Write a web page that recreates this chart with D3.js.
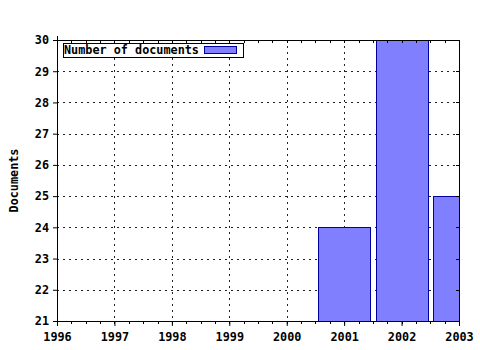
<!DOCTYPE html>
<html>
<head>
<meta charset="utf-8">
<script src="https://cdn.jsdelivr.net/npm/d3@7"></script>
<style>
body { margin: 0; background: #fff; }
text { font-family: "DejaVu Sans Mono", monospace; font-weight: bold; font-size: 11.8px; }
</style>
</head>
<body>
<svg id="chart" width="480" height="350"></svg>
<script>
// values
var years = [2001, 2002, 2003];
var docs = [24, 30, 25];
var yearTicks = [1996, 1997, 1998, 1999, 2000, 2001, 2002, 2003];
var docTicks = [21, 22, 23, 24, 25, 26, 27, 28, 29, 30];

var pLeft = 57, pRight = 459, pTop = 40, pBottom = 321;

var svg = d3.select("#chart");

var x = d3.scaleLinear().domain([1996, 2003]).range([pLeft, pRight]);
var y = d3.scaleLinear().domain([21, 30]).range([pBottom, pTop]);

// minor ticks every quarter year
var minor = d3.range(1996, 2003.001, 0.25);

svg.append("defs").append("clipPath").attr("id", "plot")
  .append("rect").attr("x", pLeft).attr("y", pTop - 1)
  .attr("width", pRight - pLeft).attr("height", pBottom - pTop + 1);

// dotted grid
svg.append("g").selectAll("line")
  .data(yearTicks.slice(1, -1))
  .enter().append("line")
  .attr("x1", function(d) { return Math.round(x(d)) + 0.5; })
  .attr("x2", function(d) { return Math.round(x(d)) + 0.5; })
  .attr("y1", pTop).attr("y2", pBottom)
  .attr("stroke", "#222").attr("stroke-dasharray", "2,4");

svg.append("g").selectAll("line")
  .data(docTicks.slice(1, -1))
  .enter().append("line")
  .attr("x1", pLeft).attr("x2", pRight)
  .attr("y1", function(d) { return Math.round(y(d)) + 0.5; })
  .attr("y2", function(d) { return Math.round(y(d)) + 0.5; })
  .attr("stroke", "#222").attr("stroke-dasharray", "2,4");

// bars
var bw = Math.round((x(1997) - x(1996)) * 0.9);
svg.append("g").attr("clip-path", "url(#plot)")
  .selectAll("rect")
  .data(years)
  .enter().append("rect")
  .attr("x", function(d) { return Math.round(x(d) - bw / 2) + 0.5; })
  .attr("y", function(d, i) { return Math.round(y(docs[i])) + 0.5; })
  .attr("width", bw)
  .attr("height", function(d, i) { return pBottom - Math.round(y(docs[i])); })
  .attr("fill", "#8080ff")
  .attr("stroke", "#0000a0");

// frame
svg.append("line").attr("x1", pLeft).attr("x2", pRight + 1)
  .attr("y1", pTop + 0.5).attr("y2", pTop + 0.5).attr("stroke", "#000");
svg.append("line").attr("x1", pRight + 0.5).attr("x2", pRight + 0.5)
  .attr("y1", pTop).attr("y2", pBottom).attr("stroke", "#000");

// bottom axis
var xAxis = d3.axisBottom(x).tickValues(yearTicks).tickFormat(d3.format("d"))
  .tickSize(5).tickPadding(7);
var gx = svg.append("g").attr("transform", "translate(0," + pBottom + ")").call(xAxis);
gx.attr("font-family", null).attr("font-size", null);
gx.select(".domain").attr("d", "M" + (pLeft - 4) + ",0.5H" + (pRight + 1));
gx.append("g").selectAll("line").data(minor).enter().append("line")
  .attr("x1", function(d) { return Math.round(x(d)) + 0.5; })
  .attr("x2", function(d) { return Math.round(x(d)) + 0.5; })
  .attr("y1", 0).attr("y2", 3).attr("stroke", "#000");

// top ticks
svg.append("g").selectAll("line").data(minor).enter().append("line")
  .attr("x1", function(d) { return Math.round(x(d)) + 0.5; })
  .attr("x2", function(d) { return Math.round(x(d)) + 0.5; })
  .attr("y1", pTop).attr("y2", pTop + 3).attr("stroke", "#000");

// left axis
var yAxis = d3.axisLeft(y).tickValues(docTicks).tickFormat(d3.format("d"))
  .tickSize(4).tickPadding(4);
var gy = svg.append("g").attr("transform", "translate(" + pLeft + ",0)").call(yAxis);
gy.attr("font-family", null).attr("font-size", null);
gy.select(".domain").attr("d", "M0.5," + (pTop - 4) + "V" + (pBottom + 4));

// right ticks
svg.append("g").selectAll("line").data(docTicks).enter().append("line")
  .attr("x1", pRight - 3).attr("x2", pRight)
  .attr("y1", function(d) { return Math.round(y(d)) + 0.5; })
  .attr("y2", function(d) { return Math.round(y(d)) + 0.5; })
  .attr("stroke", "#000");

svg.append("text")
  .attr("transform", "translate(18," + ((pTop + pBottom) / 2) + ") rotate(-90)")
  .attr("text-anchor", "middle")
  .text("Documents");

// legend
var lg = svg.append("g").attr("transform", "translate(63,43)");
lg.append("rect").attr("x", 0.5).attr("y", 0.5).attr("width", 180).attr("height", 14)
  .attr("fill", "#fff").attr("stroke", "#000");
lg.append("text").attr("x", 1).attr("y", 11).text("Number of documents");
lg.append("rect").attr("x", 141.5).attr("y", 3.5).attr("width", 32).attr("height", 7)
  .attr("fill", "#8080ff").attr("stroke", "#0000a0");
</script>
</body>
</html>
